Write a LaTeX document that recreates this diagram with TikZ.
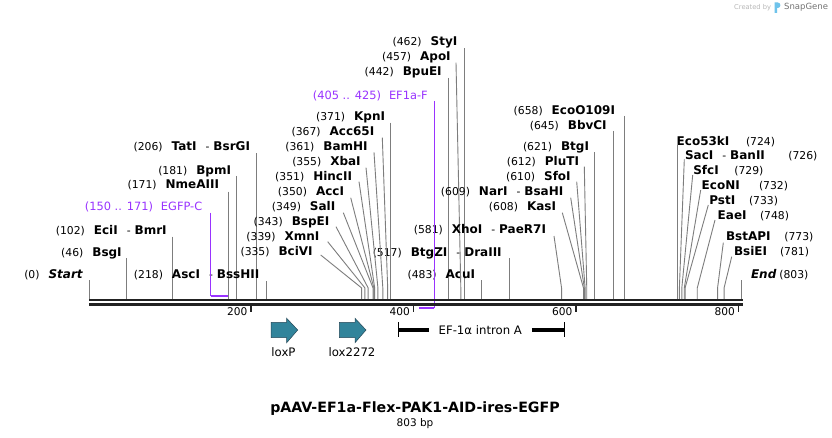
\documentclass[tikz,border=0pt]{standalone}
\usepackage{fontspec}
\setmainfont{DejaVu Sans}
\definecolor{cutgray}{RGB}{125,125,125}
\definecolor{feat}{RGB}{153,51,255}
\definecolor{tealfill}{RGB}{49,132,155}
\definecolor{tealdark}{RGB}{38,72,88}
\definecolor{bb}{RGB}{34,34,34}
\definecolor{snapblue}{RGB}{110,195,235}
\newcommand\numf{\fontsize{10.8}{12}\selectfont}
\newcommand\namef{\bfseries\fontsize{12}{13}\selectfont}
\newcommand\dsh{\hspace{9pt}{\mdseries\numf -}\hspace{4pt}}
\newcommand\posx[1]{89.5+0.8125*#1}
\newcommand\labL[5]{\node[lab, anchor=base east] (#1) at (#2,{#3+4.2}) {{\numf(#4)}\hspace{9pt}{\namef #5}};}
\newcommand\labR[6]{\node[lab, anchor=base west] (#1) at (#2,{#3+4.2}) {\namef #4};\node[lab, anchor=base west] (#1n) at (#6,{#3+4.2}) {\numf(#5)};}
\newcommand\cutV[3]{\coordinate (#1t) at ({\posx{#2}},#3);\coordinate (#1b) at ({\posx{#2}},299);\draw[cut] (#1t) -- (#1b);}
\newcommand\cutS[4]{\coordinate (#1t) at (#3,#4);\coordinate (#1k) at ({\posx{#2}},288);\coordinate (#1b) at ({\posx{#2}},299);\draw[cut] (#1t) -- (#1k) -- (#1b);}
\tikzset{
  lab/.style={inner sep=0pt, outer sep=0pt, text=black},
  cut/.style={draw=cutgray, line width=0.9pt},
  featline/.style={draw=feat, line width=1.3pt},
  featlab/.style={inner sep=0pt, outer sep=0pt, text=feat, font=\fontsize{11.4}{13}\selectfont},
  backbone/.style={draw=bb, line width=2.3pt},
  tickmark/.style={draw=bb, line width=1.8pt},
  ticklab/.style={inner sep=0pt, outer sep=0pt, font=\fontsize{10.6}{12}\selectfont},
  arrowfeat/.style={fill=tealfill, draw=tealdark, line width=0.5pt},
  featname/.style={inner sep=0pt, outer sep=0pt, font=\fontsize{11.7}{13}\selectfont},
}
\begin{document}
\begin{tikzpicture}[x=1pt, y=-1pt]
\useasboundingbox (0,0) rectangle (832,438);
\fill[white] (0,0) rectangle (832,438);

% --- cut site labels with vertical lines ---
\labL{start}{82.7}{274}{0}{\itshape Start}
\cutV{start}{0}{280}
\labL{bsgI}{121.7}{252}{46}{BsgI}
\cutV{bsgI}{46}{258.3}
\labL{eciI}{166.7}{230}{102}{EciI\dsh BmrI}
\cutV{eciI}{102}{236.7}
\labL{nme}{219}{184.7}{171}{NmeAIII}
\cutV{nme}{171}{191.7}
\labL{bpmI}{231}{170}{181}{BpmI}
\cutV{bpmI}{181}{176}
\labL{tatI}{250}{146.7}{206}{TatI\dsh BsrGI}
\cutV{tatI}{206}{153.3}
\labL{ascI}{259.3}{274.5}{218}{AscI\dsh BssHII}
\cutV{ascI}{218}{281}
\labL{kpnI}{385}{116.7}{371}{KpnI}
\cutV{kpnI}{371}{122.7}
\labL{bpuEI}{441.7}{71.7}{442}{BpuEI}
\cutV{bpuEI}{442}{78}
\labL{styI}{457.3}{41.7}{462}{StyI}
\cutV{styI}{462}{48.3}
\labL{acuI}{475}{274.3}{483}{AcuI}
\cutV{acuI}{483}{280}
\labL{btgZI}{501.7}{252}{517}{BtgZI\dsh DraIII}
\cutV{btgZI}{517}{258.3}
\labL{btgI}{589}{146.7}{621}{BtgI}
\cutV{btgI}{621}{152.3}
\labL{bbvCI}{606.7}{125}{645}{BbvCI}
\cutV{bbvCI}{645}{131}
\labL{ecoO}{615}{110}{658}{EcoO109I}
\cutV{ecoO}{658}{116}

% --- cut site labels with slanted lines ---
\labL{bciVI}{312.7}{251.7}{335}{BciVI}
\cutS{bciVI}{335}{320.7}{255}
\labL{xmnI}{319.3}{236.7}{339}{XmnI}
\cutS{xmnI}{339}{327.7}{241.7}
\labL{bspEI}{329.3}{221.7}{343}{BspEI}
\cutS{bspEI}{343}{336}{226.7}
\labL{salI}{335.3}{206.7}{349}{SalI}
\cutS{salI}{349}{343.3}{212.7}
\labL{accI}{344}{191.7}{350}{AccI}
\cutS{accI}{350}{350.7}{197.7}
\labL{hincII}{352}{176.7}{351}{HincII}
\cutS{hincII}{351}{359}{181.7}
\labL{xbaI}{360.7}{161.7}{355}{XbaI}
\cutS{xbaI}{355}{366}{167.7}
\labL{bamHI}{367.7}{146.7}{361}{BamHI}
\cutS{bamHI}{361}{374}{152.3}
\labL{acc65I}{374.3}{131.7}{367}{Acc65I}
\cutS{acc65I}{367}{382.3}{137.7}
\labL{apoI}{450.7}{56.7}{457}{ApoI}
\cutS{apoI}{457}{456}{62.7}
\labL{xhoI}{546}{229.3}{581}{XhoI\dsh PaeR7I}
\cutS{xhoI}{581}{554}{236}
\labL{kasI}{556}{206.7}{608}{KasI}
\cutS{kasI}{608}{562.3}{212.7}
\labL{narI}{563.3}{191.7}{609}{NarI\dsh BsaHI}
\cutS{narI}{609}{570.7}{197.7}
\labL{sfoI}{570.7}{176.7}{610}{SfoI}
\cutS{sfoI}{610}{576.7}{181.7}
\labL{pluTI}{579}{161.7}{612}{PluTI}
\cutS{pluTI}{612}{584.3}{166.7}

% --- right-side labels ---
\labR{eco53}{676.7}{141}{Eco53kI}{724}{746}
\cutV{eco53}{724}{145}
\labR{sacI}{685}{155}{SacI\dsh BanII}{726}{788.3}
\cutS{sacI}{726}{684.3}{159.3}
\labR{sfcI}{693.3}{170}{SfcI}{729}{734.3}
\cutS{sfcI}{729}{692.7}{175}
\labR{ecoNI}{701.7}{185}{EcoNI}{732}{759}
\cutS{ecoNI}{732}{700.7}{190}
\labR{pstI}{709.3}{200}{PstI}{733}{749}
\cutS{pstI}{733}{708.3}{205}
\labR{eaeI}{717.7}{215}{EaeI}{748}{760}
\cutS{eaeI}{748}{715}{220}
\labR{bstAPI}{726}{236.7}{BstAPI}{773}{784.3}
\cutS{bstAPI}{773}{723.3}{242.7}
\labR{bsiEI}{734}{251.7}{BsiEI}{781}{780}
\cutS{bsiEI}{781}{731.7}{256.7}
\labR{endl}{751}{274}{\itshape End}{803}{779.3}
\cutV{endl}{803}{280}

% --- primer features (purple) ---
\node[featlab, anchor=base east] (egfp) at (202.3,{206.7+4.2}) {(150 .. 171)\hspace{8pt}EGFP-C};
\coordinate (egfpT) at (210.5,212.7);
\coordinate (egfpK) at (210.5,296);
\coordinate (egfpE) at ({\posx{171}},296);
\draw[featline] (egfpT) -- (egfpK);
\draw[draw=feat, line width=2pt] (egfpK) -- (egfpE);
\node[featlab, anchor=base east] (efF) at (427.7,{95+4.2}) {(405 .. 425)\hspace{8pt}EF1a-F};
\coordinate (efFT) at (434.3,101);
\coordinate (efFK) at (434.3,308.3);
\coordinate (efFE) at ({\posx{405}},308.3);
\draw[featline] (efFT) -- (efFK);
\draw[draw=feat, line width=2pt] (efFK) -- (efFE);

% --- backbone ---
\coordinate (bbL1) at (89,300.3);
\coordinate (bbR1) at (743.3,300.3);
\coordinate (bbL2) at (89,304.6);
\coordinate (bbR2) at (743.3,304.6);
\draw[backbone] (bbL1) -- (bbR1);
\draw[backbone] (bbL2) -- (bbR2);

% --- ticks ---
\foreach \p in {200,400,600,800}{
  \coordinate (tk\p a) at ({\posx{\p}-1},305);
  \coordinate (tk\p b) at ({\posx{\p}-1},312);
  \draw[tickmark] (tk\p a) -- (tk\p b);
  \node[ticklab, anchor=east] (tl\p) at ({\posx{\p}-4.6},311.7) {\p};
}

% --- loxP / lox2272 ---
\draw[arrowfeat] (271,322.3) -- (286.7,322.3) -- (286.7,318.3) -- (297.7,330) -- (286.7,342.7) -- (286.7,337.7) -- (271,337.7) -- cycle;
\node[featname] (loxP) at (283.5,351.7) {loxP};
\draw[arrowfeat] (339.3,322.3) -- (355,322.3) -- (355,318.3) -- (366,330) -- (355,342.7) -- (355,337.7) -- (339.3,337.7) -- cycle;
\node[featname] (lox2272) at (352,351.7) {lox2272};

% --- EF-1a intron A ---
\node[featname] (efa) at (480.3,330) {EF-1α intron A};
\coordinate (efaL) at (398.6,330);
\coordinate (efaR) at (564.2,330);
\coordinate (efaL1) at (398.6,322.3);
\coordinate (efaL2) at (398.6,337.3);
\coordinate (efaR1) at (564.2,322.3);
\coordinate (efaR2) at (564.2,337.3);
\draw[line width=4.5pt] (efaL) -- ([xshift=-10pt]efa.west);
\draw[line width=4.5pt] ([xshift=10pt]efa.east) -- (efaR);
\draw[line width=1.1pt] (efaL1) -- (efaL2);
\draw[line width=1.1pt] (efaR1) -- (efaR2);

% --- title ---
\node[inner sep=0pt, font=\bfseries\fontsize{14.2}{16}\selectfont] (title) at (415,409) {pAAV-EF1a-Flex-PAK1-AID-ires-EGFP};
\node[inner sep=0pt, font=\fontsize{10.5}{12}\selectfont, anchor=base] (bp) at (415,426.5) {803 bp};

% --- SnapGene credit ---
\node[inner sep=0pt, anchor=west, text=black!28, font=\fontsize{6.7}{8}\selectfont] (created) at (734,7.5) {Created by};
\fill[snapblue] (774.5,13) -- (774.5,2.5) -- (777.8,2.5) .. controls (781.2,2.5) and (781.2,8) .. (777.8,8) -- (777,8) -- (777,13) -- cycle;
\node[inner sep=0pt, anchor=west, text=black!55, font=\fontsize{8.5}{10}\selectfont] (snap) at (784,7.5) {SnapGene};
\end{tikzpicture}
\end{document}
